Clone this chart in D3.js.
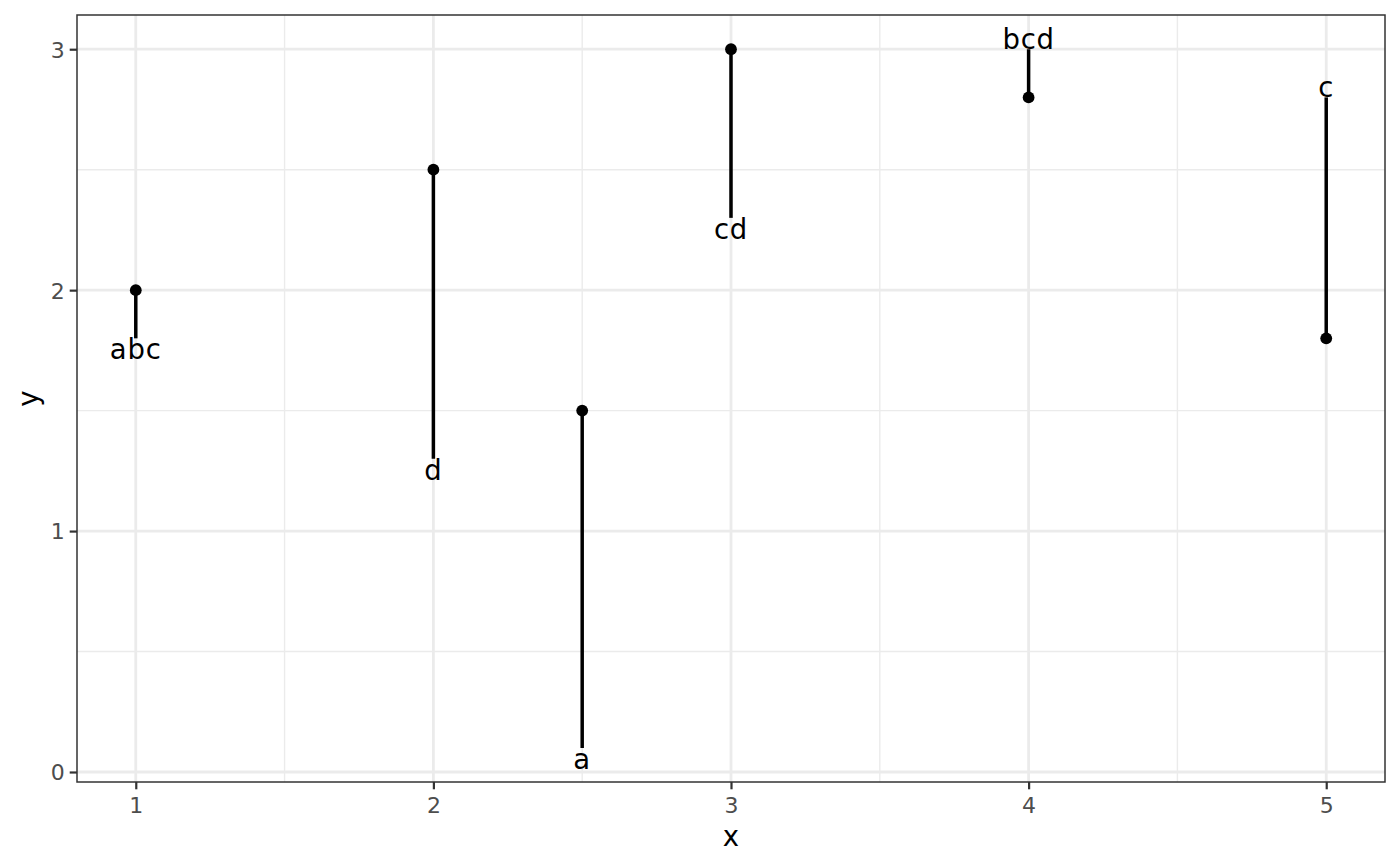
<!DOCTYPE html>
<html>
<head>
<meta charset="utf-8">
<script src="https://cdn.jsdelivr.net/npm/d3@7"></script>
<style>
  html, body { margin: 0; padding: 0; background: #ffffff; }
  svg { display: block; }
  text { font-family: "DejaVu Sans", sans-serif; }
</style>
</head>
<body>
<svg id="chart" width="1400" height="866"></svg>
<script>
// ---- data ----
const pointX = [1, 2, 2.5, 3, 4, 5];
const pointY = [2, 2.5, 1.5, 3, 2.8, 1.8];
const labels = ["abc", "d", "a", "cd", "bcd", "c"];
const labelEndY = [1.8, 1.3, 0.1, 2.3, 3.0, 2.8];
const xMajorTicks = [1, 2, 3, 4, 5];
const xMinorTicks = [1.5, 2.5, 3.5, 4.5];
const yMajorTicks = [0, 1, 2, 3];
const yMinorTicks = [0.5, 1.5, 2.5];
const xTitle = "x";
const yTitle = "y";

const data = pointX.map((x, i) => ({ x, y: pointY[i], label: labels[i], yend: labelEndY[i] }));

// ---- layout ----
const panel = { left: 77, top: 15, right: 1385, bottom: 782 };
const svg = d3.select("#chart");

const x = d3.scaleLinear().domain([0.8025, 5.1975]).range([panel.left, panel.right]);
const y = d3.scaleLinear().domain([-0.0415, 3.142]).range([panel.bottom, panel.top]);

const g = svg.append("g");

g.append("rect")
  .attr("x", panel.left).attr("y", panel.top)
  .attr("width", panel.right - panel.left).attr("height", panel.bottom - panel.top)
  .attr("fill", "#ffffff");

// minor grid
g.selectAll(".xminor").data(xMinorTicks).enter().append("line")
  .attr("x1", d => x(d)).attr("x2", d => x(d))
  .attr("y1", panel.top).attr("y2", panel.bottom)
  .attr("stroke", "#ebebeb").attr("stroke-width", 1.4);
g.selectAll(".yminor").data(yMinorTicks).enter().append("line")
  .attr("y1", d => y(d)).attr("y2", d => y(d))
  .attr("x1", panel.left).attr("x2", panel.right)
  .attr("stroke", "#ebebeb").attr("stroke-width", 1.4);

// major grid
g.selectAll(".xmajor").data(xMajorTicks).enter().append("line")
  .attr("x1", d => x(d)).attr("x2", d => x(d))
  .attr("y1", panel.top).attr("y2", panel.bottom)
  .attr("stroke", "#ebebeb").attr("stroke-width", 2.8);
g.selectAll(".ymajor").data(yMajorTicks).enter().append("line")
  .attr("y1", d => y(d)).attr("y2", d => y(d))
  .attr("x1", panel.left).attr("x2", panel.right)
  .attr("stroke", "#ebebeb").attr("stroke-width", 2.8);

// segments
g.selectAll(".seg").data(data).enter().append("line")
  .attr("x1", d => x(d.x)).attr("x2", d => x(d.x))
  .attr("y1", d => y(d.y)).attr("y2", d => y(d.yend))
  .attr("stroke", "#000").attr("stroke-width", 3.5);

// points
g.selectAll(".pt").data(data).enter().append("circle")
  .attr("cx", d => x(d.x)).attr("cy", d => y(d.y))
  .attr("r", 5.9).attr("fill", "#000");

// labels
g.selectAll(".lab").data(data).enter().append("text")
  .attr("x", d => x(d.x))
  .attr("y", d => d.yend < d.y ? y(d.yend) + 21 : y(d.yend))
  .attr("text-anchor", "middle")
  .attr("font-size", 27.5)
  .attr("letter-spacing", 0.8)
  .attr("fill", "#000")
  .text(d => d.label);

// panel border
g.append("rect")
  .attr("x", panel.left).attr("y", panel.top)
  .attr("width", panel.right - panel.left).attr("height", panel.bottom - panel.top)
  .attr("fill", "none").attr("stroke", "#333333").attr("stroke-width", 1.5);

// axes
const xAxis = d3.axisBottom(x).tickValues(xMajorTicks).tickSize(7.3).tickPadding(4).tickFormat(d3.format("d"));
const yAxis = d3.axisLeft(y).tickValues(yMajorTicks).tickSize(7.3).tickPadding(5).tickFormat(d3.format("d"));

const gx = svg.append("g").attr("transform", `translate(0,${panel.bottom})`).call(xAxis);
const gy = svg.append("g").attr("transform", `translate(${panel.left},0)`).call(yAxis);
[gx, gy].forEach(a => {
  a.select(".domain").remove();
  a.selectAll(".tick line").attr("stroke", "#333333").attr("stroke-width", 2.2);
  a.selectAll(".tick text").attr("fill", "#4d4d4d").attr("font-size", 22)
    .attr("font-family", "DejaVu Sans, sans-serif");
});
gx.selectAll(".tick text").attr("dy", null).attr("y", 30.5);
gy.selectAll(".tick text").attr("dy", "0.36em");

// axis titles
svg.append("text")
  .attr("x", (panel.left + panel.right) / 2).attr("y", 846)
  .attr("text-anchor", "middle").attr("font-size", 27.5).attr("fill", "#000")
  .text(xTitle);
svg.append("text")
  .attr("transform", `translate(38,${(panel.top + panel.bottom) / 2}) rotate(-90)`)
  .attr("text-anchor", "middle").attr("font-size", 27.5).attr("fill", "#000")
  .text(yTitle);
</script>
</body>
</html>
